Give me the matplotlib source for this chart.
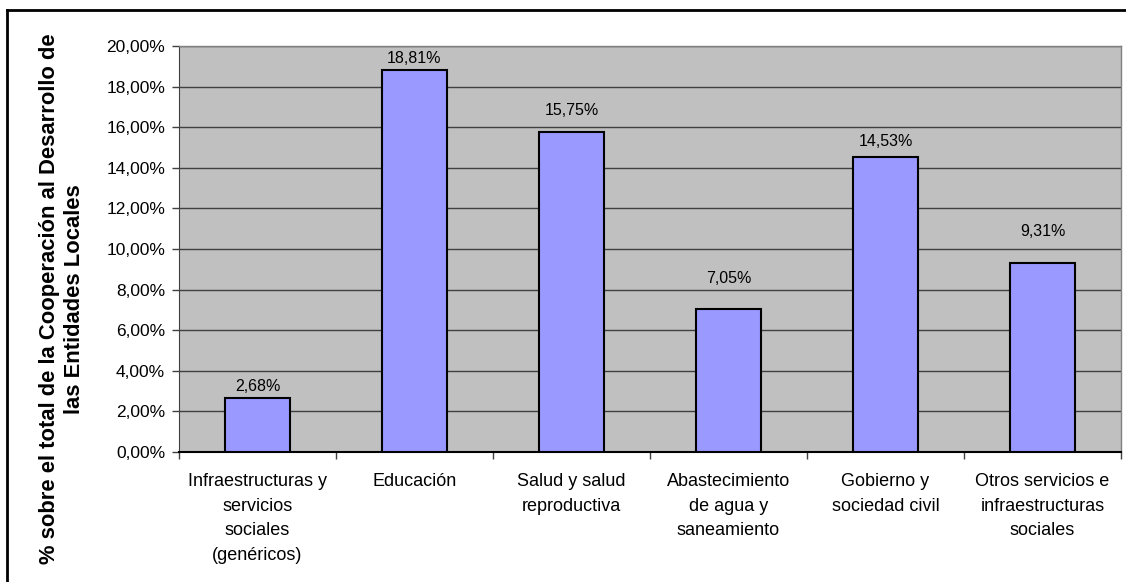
import matplotlib
matplotlib.use('Agg')
import matplotlib.pyplot as plt
from matplotlib.lines import Line2D
from matplotlib.ticker import FuncFormatter, MultipleLocator
import numpy as np

plt.rcParams['font.family'] = ['Liberation Sans', 'DejaVu Sans']

categorias = ['Infraestructuras y\nservicios\nsociales\n(genéricos)',
              'Educación',
              'Salud y salud\nreproductiva',
              'Abastecimiento\nde agua y\nsaneamiento',
              'Gobierno y\nsociedad civil',
              'Otros servicios e\ninfraestructuras\nsociales']
valores = [2.68, 18.81, 15.75, 7.05, 14.53, 9.31]
etiquetas = ['2,68%', '18,81%', '15,75%', '7,05%', '14,53%', '9,31%']

# separación (px) entre la barra y su etiqueta, como en el original
sep_px = [6, 6, 16, 25, 10, 26]

fig = plt.figure(figsize=(11.26, 5.82), dpi=100)
W, H = 1126, 582
ax = fig.add_axes([179 / W, 1 - 452 / H, (1121 - 179) / W, (452 - 46) / H])

# marco exterior (solo se ven el borde izquierdo y el superior)
fig.lines.append(Line2D([7 / W, 7 / W], [0, 1 - 10 / H], transform=fig.transFigure,
                        color='black', linewidth=2))
fig.lines.append(Line2D([7 / W, 1], [1 - 10 / H, 1 - 10 / H], transform=fig.transFigure,
                        color='black', linewidth=2))

ax.set_facecolor('#C0C0C0')
x = np.arange(len(valores))
ax.bar(x, valores, width=0.41, color='#9999FF', edgecolor='black', linewidth=1.5, zorder=3)
for xi, v, t, s in zip(x, valores, etiquetas, sep_px):
    ax.annotate(t, (xi, v), xytext=(0, s * 0.72 - 1.5), textcoords='offset points',
                ha='center', va='bottom', fontsize=11.5, zorder=4)

ax.set_xlim(-0.5, len(valores) - 0.5)
ax.set_ylim(0, 20)
ax.yaxis.set_major_locator(MultipleLocator(2))
ax.yaxis.set_major_formatter(FuncFormatter(lambda v, p: ('%.2f%%' % v).replace('.', ',')))
ax.yaxis.grid(True, color='#404040', linewidth=1, zorder=1)
ax.set_axisbelow(True)

ax.set_xticks(np.arange(-0.5, len(valores), 1.0))
ax.set_xticklabels([])
ax.set_xticks(x, minor=True)
ax.set_xticklabels(categorias, minor=True, fontsize=13, linespacing=1.6)
ax.tick_params(axis='x', which='minor', length=0, pad=15)
ax.tick_params(axis='x', which='major', length=5, width=1, color='#404040')
ax.tick_params(axis='y', length=5, width=1, color='#404040', labelsize=12.5, pad=5)

for s in ['top', 'right']:
    ax.spines[s].set_color('#808080')
    ax.spines[s].set_linewidth(1)
ax.spines['left'].set_color('#404040')
ax.spines['bottom'].set_color('black')
ax.spines['bottom'].set_linewidth(1.5)

fig.text(62 / W, 1 - 299 / H,
         '% sobre el total de la Cooperación al Desarrollo de\nlas Entidades Locales',
         rotation=90, ha='center', va='center', multialignment='center',
         fontsize=15.8, fontweight='bold', linespacing=1.3)

fig.savefig('out.png', dpi=100)
